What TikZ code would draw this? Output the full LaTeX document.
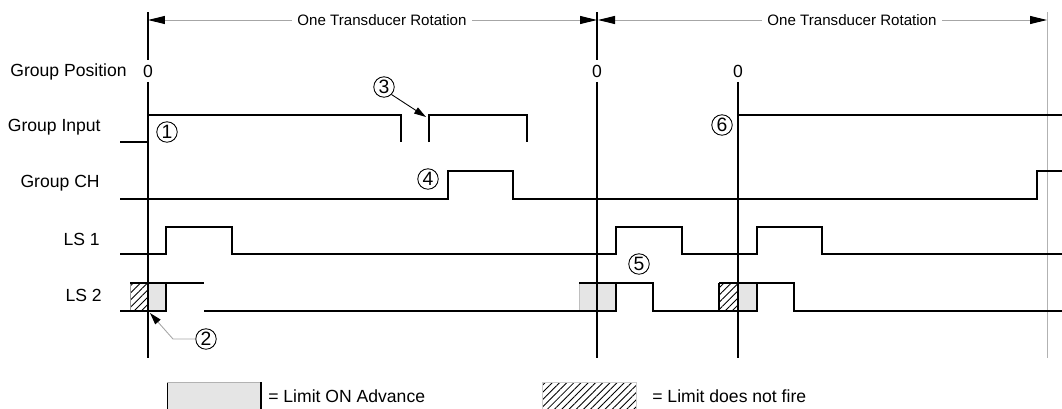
\documentclass[tikz,border=0pt]{standalone}
\usepackage{fontspec}
\setmainfont{Liberation Sans}
\usetikzlibrary{arrows.meta,patterns.meta}
\tikzset{
  lbl/.style={font=\fontsize{10}{12}\selectfont,inner sep=0pt},
  zero/.style={font=\fontsize{10}{12}\selectfont,inner sep=2.5pt},
  rot/.style={font=\fontsize{8.6}{10}\selectfont,fill=white,inner sep=3pt},
  num/.style={circle,draw,line width=0.5pt,minimum size=0.41cm,inner sep=0pt,font=\fontsize{11}{12}\selectfont},
  sig/.style={line width=0.85pt},
  zeroline/.style={line width=1.4pt},
  dim/.style={gray!70,line width=0.5pt},
  dimtip/.style={-{Triangle[length=3.4mm,width=1.6mm,color=black]}},
  hatch/.style={pattern={Lines[angle=45,distance=2.9pt,line width=0.5pt]}},
  adv/.style={fill=gray!20}
}
\begin{document}
\begin{tikzpicture}[x=0.02cm,y=-0.02cm]
\useasboundingbox (0,0) rectangle (1062,409);
\node[lbl,anchor=east] (posLbl) at (127,72) {Group Position};
\node[lbl,anchor=east] (inLbl) at (101,127) {Group Input};
\node[lbl,anchor=east] (chLbl) at (100,183) {Group CH};
\node[lbl,anchor=east] (lsaLbl) at (100,239) {LS 1};
\node[lbl,anchor=east] (lsbLbl) at (102,295) {LS 2};
\node[zero] (zeroA) at (148,71) {0};
\node[zero] (zeroB) at (597,71) {0};
\node[zero] (zeroC) at (738,71) {0};
\coordinate (topA) at (148,12);
\coordinate (topB) at (597,12);
\coordinate (topC) at (1047,12);
\coordinate (botA) at (148,358);
\coordinate (botB) at (597,358);
\coordinate (botC) at (738,358);
\coordinate (botD) at (1047,358);
\draw[zeroline] (topA) -- (zeroA.north);
\draw[zeroline] (zeroA.south) -- (botA);
\draw[zeroline] (topB) -- (zeroB.north);
\draw[zeroline] (zeroB.south) -- (botB);
\draw[zeroline] (zeroC.south) -- (botC);
\draw[gray!60,line width=0.5pt] (topC) -- (botD);
\node[rot] (rotA) at (382,20) {One Transducer Rotation};
\node[rot] (rotB) at (852,20) {One Transducer Rotation};
\coordinate (arrA) at (148,20);
\coordinate (arrB) at (597,20);
\coordinate (arrC) at (598,20);
\coordinate (arrD) at (1047,20);
\draw[dim,dimtip] (rotA.west) -- (arrA);
\draw[dim,dimtip] (rotA.east) -- (arrB);
\draw[dim,dimtip] (rotB.west) -- (arrC);
\draw[dim,dimtip] (rotB.east) -- (arrD);
\draw[sig] (120,142) -- (148,142) -- (148,115) -- (401,115) -- (401,142);
\draw[sig] (429,142) -- (429,115) -- (527,115) -- (527,142);
\draw[sig] (738,115) -- (1062,115);
\draw[sig] (120,199) -- (448,199) -- (448,171) -- (513,171) -- (513,199) -- (1037,199) -- (1037,171) -- (1062,171);
\draw[sig] (120,254) -- (166,254) -- (166,227) -- (232,227) -- (232,254) -- (616,254) -- (616,227) -- (682,227) -- (682,254) -- (757,254) -- (757,227) -- (822,227) -- (822,254) -- (1062,254);
\fill[hatch] (130,283) rectangle (148,311);
\fill[adv] (148,283) rectangle (166,311);
\fill[adv] (579,283) rectangle (616,311);
\fill[hatch] (719,283) rectangle (738,311);
\fill[adv] (738,283) rectangle (757,311);
\draw[gray!80,line width=0.5pt] (130,283) -- (130,311);
\draw[gray!50,line width=0.5pt] (579,283) -- (579,311);
\draw[line width=0.6pt] (719,283) -- (719,311);
\draw[sig] (120,311) -- (166,311) -- (166,283);
\draw[sig] (130,283) -- (204,283);
\draw[sig] (204,311) -- (616,311) -- (616,283);
\draw[sig] (579,283) -- (653,283) -- (653,311) -- (757,311) -- (757,283);
\draw[sig] (719,283) -- (794,283) -- (794,311) -- (1062,311);
\draw[zeroline] (148,283) -- (148,311);
\draw[zeroline] (597,283) -- (597,311);
\draw[zeroline] (738,283) -- (738,311);
\node[num] (numA) at (167,132) {1};
\node[num] (numB) at (206,339) {2};
\node[num] (numC) at (384,87) {3};
\node[num] (numD) at (428,179) {4};
\node[num] (numE) at (639,264) {5};
\node[num] (numF) at (722,125) {6};
\coordinate (bendB) at (173,339);
\coordinate (tipB) at (150,313);
\coordinate (tipC) at (426,117);
\draw[gray!70,line width=0.5pt,-{Triangle[length=2.4mm,width=1.4mm,color=black]}] (numB.west) -- (bendB) -- (tipB);
\draw[line width=0.5pt,-{Triangle[length=2.4mm,width=1.4mm]}] (numC.south east) -- (tipC);
\draw[adv] (167,382) rectangle (261,409);
\draw[gray!60,line width=0.5pt] (167,382) -- (261,382);
\draw[line width=0.8pt] (261,382) -- (261,409);
\node[lbl,anchor=west] (advLbl) at (268,396) {= Limit ON Advance};
\fill[hatch] (542,382) rectangle (636,409);
\draw[gray!40,line width=0.4pt] (542,382) rectangle (636,409);
\node[lbl,anchor=west] (fireLbl) at (652,396) {= Limit does not fire};
\end{tikzpicture}
\end{document}
